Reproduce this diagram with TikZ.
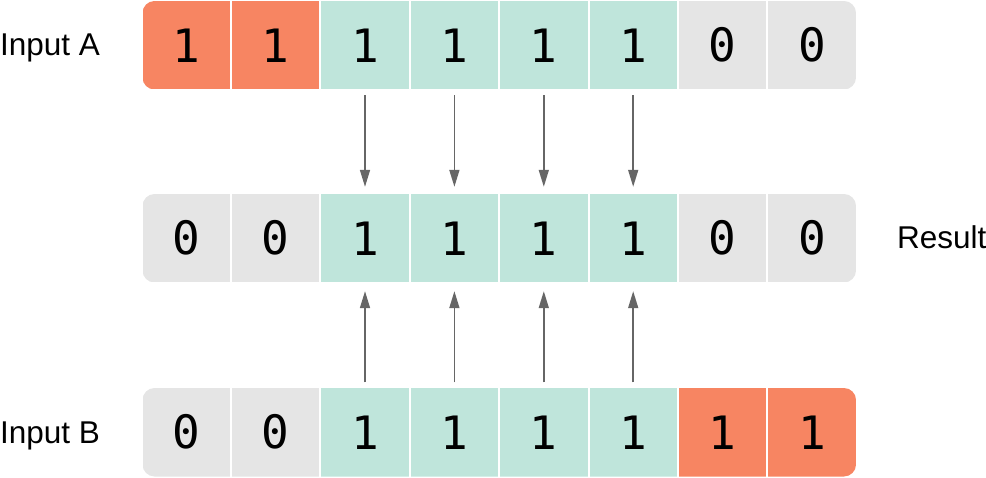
\documentclass[tikz,border=0pt]{standalone}
\usepackage{fontspec}
\setmainfont{Liberation Sans}
\newfontfamily\digitfont{DejaVu Sans Mono}
\usetikzlibrary{arrows.meta}
\definecolor{CellOrange}{HTML}{F78562}
\definecolor{CellTeal}{HTML}{BFE5DB}
\definecolor{CellGrey}{HTML}{E5E5E5}
\definecolor{ArrowGrey}{HTML}{666666}
\tikzset{
  bitcell/.style={rectangle, minimum width=87.4pt, minimum height=88.5pt, inner sep=0pt, font=\digitfont\fontsize{46}{46}\selectfont},
  rowlabel/.style={anchor=base west, inner sep=0pt, font=\fontsize{31.5}{31.5}\selectfont},
  bitarrow/.style={-{Triangle[length=17pt,width=10pt]}, line width=1.6pt, ArrowGrey}
}

\begin{document}
\begin{tikzpicture}[x=1pt,y=-1pt]
  \useasboundingbox (0,0) rectangle (986,478);

  % input A
  \begin{scope}
    \clip[rounded corners=12pt] (142.5,1) rectangle (856,89.5);
    \foreach \i/\bit/\col in {1/1/CellOrange,2/1/CellOrange,3/1/CellTeal,4/1/CellTeal,5/1/CellTeal,6/1/CellTeal,7/0/CellGrey,8/0/CellGrey}
      \node[bitcell, fill=\col] (a\i) at ({186.2+(\i-1)*89.4},45.25) {\bit};
  \end{scope}

  % result
  \begin{scope}
    \clip[rounded corners=12pt] (142.5,194) rectangle (856,282.5);
    \foreach \i/\bit/\col in {1/0/CellGrey,2/0/CellGrey,3/1/CellTeal,4/1/CellTeal,5/1/CellTeal,6/1/CellTeal,7/0/CellGrey,8/0/CellGrey}
      \node[bitcell, fill=\col] (r\i) at ({186.2+(\i-1)*89.4},238.25) {\bit};
  \end{scope}

  % input B
  \begin{scope}
    \clip[rounded corners=12pt] (142.5,388) rectangle (856,476.5);
    \foreach \i/\bit/\col in {1/0/CellGrey,2/0/CellGrey,3/1/CellTeal,4/1/CellTeal,5/1/CellTeal,6/1/CellTeal,7/1/CellOrange,8/1/CellOrange}
      \node[bitcell, fill=\col] (b\i) at ({186.2+(\i-1)*89.4},432.25) {\bit};
  \end{scope}

  \node[rowlabel] (labelA) at (0,55.5) {Input A};
  \node[rowlabel] (labelR) at (897,249) {Result};
  \node[rowlabel] (labelB) at (0,443) {Input B};

  % arrows
  \foreach \i in {3,...,6} {
    \draw[bitarrow] ([yshift=-5.5pt]a\i.south) -- ([yshift=7pt]r\i.north);
    \draw[bitarrow] ([yshift=5.5pt]b\i.north) -- ([yshift=-8.5pt]r\i.south);
  }
\end{tikzpicture}
\end{document}
